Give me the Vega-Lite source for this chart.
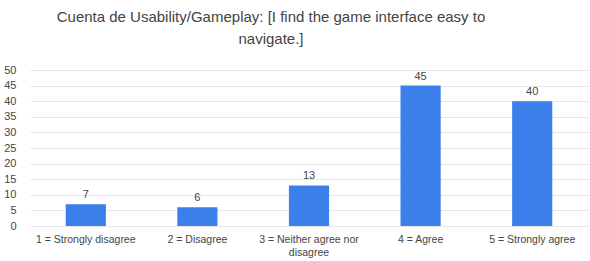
{
  "$schema": "https://vega.github.io/schema/vega-lite/v6.json",
  "autosize": {"type": "none"},
  "width": 558,
  "height": 156,
  "padding": {"left": 30, "top": 70, "right": 2, "bottom": 35},
  "background": "white",
  "title": {
    "text": ["Cuenta de Usability/Gameplay: [I find the game interface easy to", "navigate.]"],
    "font": "Liberation Sans",
    "fontSize": 15,
    "fontWeight": "normal",
    "color": "#444444",
    "anchor": "middle",
    "frame": "group",
    "offset": 17,
    "lineHeight": 22,
    "dx": -38
  },
  "data": {
    "values": [
      {"answer": "1 = Strongly disagree", "count": 7},
      {"answer": "2 = Disagree", "count": 6},
      {"answer": "3 = Neither agree nor disagree", "count": 13},
      {"answer": "4 = Agree", "count": 45},
      {"answer": "5 = Strongly agree", "count": 40}
    ]
  },
  "encoding": {
    "x": {
      "field": "answer",
      "type": "nominal",
      "sort": null,
      "scale": {"paddingInner": 0.64, "paddingOuter": 0.32},
      "axis": {
        "title": null,
        "labelAngle": 0,
        "domain": false,
        "ticks": false,
        "labelFont": "Liberation Sans",
        "labelFontSize": 10.5,
        "labelColor": "#444444",
        "labelPadding": 8,
        "labelLineHeight": 13,
        "labelExpr": "datum.label == '3 = Neither agree nor disagree' ? ['3 = Neither agree nor', 'disagree'] : datum.label"
      }
    },
    "y": {
      "field": "count",
      "type": "quantitative",
      "scale": {"domain": [0, 50]},
      "axis": {
        "title": null,
        "values": [0, 5, 10, 15, 20, 25, 30, 35, 40, 45, 50],
        "domain": false,
        "ticks": false,
        "labelFont": "Liberation Sans",
        "labelFontSize": 11,
        "labelColor": "#444444",
        "labelPadding": 14,
        "gridColor": "#e6e6e6",
        "gridWidth": 1
      }
    }
  },
  "layer": [
    {"mark": {"type": "bar", "color": "#3d7fea"}},
    {
      "mark": {"type": "text", "dy": -9, "font": "Liberation Sans", "fontSize": 11, "color": "#444444"},
      "encoding": {"text": {"field": "count", "type": "quantitative"}}
    }
  ],
  "config": {"view": {"stroke": null}}
}
